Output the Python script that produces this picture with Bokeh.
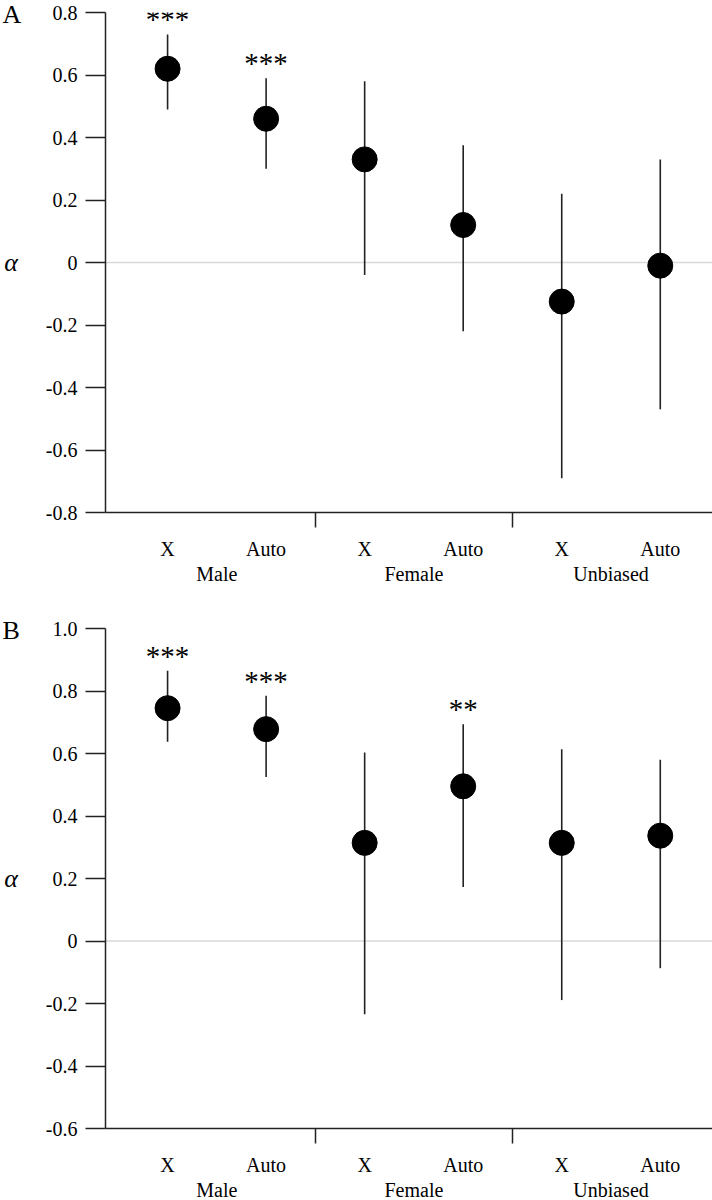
from bokeh.plotting import figure
from bokeh.models import (FixedTicker, CustomJSTickFormatter, LinearAxis, Span,
                          LabelSet, ColumnDataSource, Range1d)
from bokeh.layouts import column
from bokeh.embed import file_html
from bokeh.resources import INLINE

# ---------------- data ----------------
categories = ["X", "Auto", "X", "Auto", "X", "Auto"]
positions = [0, 1, 2, 3, 4, 5]
groups = ["Male", "Female", "Unbiased"]
group_positions = [0.5, 2.5, 4.5]
dividers = [1.5, 3.5]

alpha_a = [0.62, 0.46, 0.33, 0.12, -0.125, -0.01]
lower_a = [0.49, 0.30, -0.04, -0.22, -0.69, -0.47]
upper_a = [0.73, 0.59, 0.58, 0.375, 0.22, 0.33]
stars_a = ["***", "***", "", "", "", ""]
yticks_a = [-0.8, -0.6, -0.4, -0.2, 0, 0.2, 0.4, 0.6, 0.8]

alpha_b = [0.745, 0.678, 0.314, 0.495, 0.314, 0.337]
lower_b = [0.638, 0.525, -0.234, 0.173, -0.189, -0.087]
upper_b = [0.865, 0.785, 0.603, 0.694, 0.614, 0.58]
stars_b = ["***", "***", "", "**", "", ""]
yticks_b = [-0.6, -0.4, -0.2, 0, 0.2, 0.4, 0.6, 0.8, 1.0]

FONT = "Liberation Serif"
FW, FH = 607, 500
LEFT = 105


def make_panel(letter, alpha, lower, upper, stars, yticks, top, bottom):
    p = figure(frame_width=FW, frame_height=FH,
               min_border_left=LEFT, min_border_right=0,
               min_border_top=top, min_border_bottom=bottom,
               x_range=Range1d(-0.63, 5.53),
               y_range=Range1d(yticks[0], yticks[-1]),
               x_axis_location=None, y_axis_location=None,
               output_backend="svg", toolbar_location=None)
    p.grid.grid_line_color = None
    p.outline_line_color = None
    p.background_fill_color = "white"
    p.border_fill_color = "white"

    # panel letter as a title pulled down beside the axis
    p.title.text = letter
    p.title.align = "left"
    p.title.offset = 2 - LEFT
    p.title.standoff = -33
    p.title.text_font = FONT
    p.title.text_font_size = "26px"
    p.title.text_font_style = "normal"
    p.title.text_color = "black"

    # y axis
    yaxis = LinearAxis(ticker=FixedTicker(ticks=yticks),
                       formatter=CustomJSTickFormatter(code="""
                           if (Math.abs(tick) < 1e-9) { return "0"; }
                           return tick.toFixed(1);"""),
                       axis_label="\u03b1",
                       axis_label_orientation="horizontal",
                       axis_label_text_font=FONT,
                       axis_label_text_font_style="italic",
                       axis_label_text_font_size="26px",
                       axis_label_text_color="black",
                       axis_label_standoff=25)
    yaxis.axis_line_width = 1.5
    yaxis.axis_line_color = "#222222"
    yaxis.major_tick_line_width = 1.5
    yaxis.major_tick_line_color = "#222222"
    yaxis.major_tick_out = 20
    yaxis.major_tick_in = 0
    yaxis.minor_tick_line_color = None
    yaxis.major_label_text_font = FONT
    yaxis.major_label_text_font_size = "20px"
    yaxis.major_label_text_color = "black"
    yaxis.major_label_standoff = 8
    p.add_layout(yaxis, "left")

    # x axis: line, divider ticks, category labels
    xaxis = LinearAxis(ticker=FixedTicker(ticks=positions, minor_ticks=dividers),
                       major_label_overrides={k: v for k, v in zip(positions, categories)})
    xaxis.axis_line_width = 1.5
    xaxis.axis_line_color = "#222222"
    xaxis.major_tick_line_color = None
    xaxis.major_tick_out = 0
    xaxis.major_tick_in = 0
    xaxis.minor_tick_line_color = "#222222"
    xaxis.minor_tick_line_width = 1.5
    xaxis.minor_tick_out = 15
    xaxis.minor_tick_in = 0
    xaxis.major_label_text_font = FONT
    xaxis.major_label_text_font_size = "20px"
    xaxis.major_label_text_color = "black"
    xaxis.major_label_standoff = 10
    p.add_layout(xaxis, "below")

    # group labels axis
    gaxis = LinearAxis(ticker=FixedTicker(ticks=group_positions),
                       major_label_overrides={k: v for k, v in zip(group_positions, groups)})
    gaxis.axis_line_color = None
    gaxis.major_tick_line_color = None
    gaxis.minor_tick_line_color = None
    gaxis.major_tick_out = 0
    gaxis.major_tick_in = 0
    gaxis.major_label_text_font = FONT
    gaxis.major_label_text_font_size = "20px"
    gaxis.major_label_text_color = "black"
    gaxis.major_label_standoff = 0
    p.add_layout(gaxis, "below")

    p.add_layout(Span(location=0, dimension="width", line_color="#d9d9d9",
                      line_width=1.5, level="underlay"))

    src = ColumnDataSource(dict(x=positions, alpha=alpha, lower=lower,
                                upper=upper, stars=stars))
    p.segment(x0="x", y0="lower", x1="x", y1="upper", source=src,
              line_color="#222222", line_width=1.6)
    p.scatter(x="x", y="alpha", source=src, marker="circle", size=25,
              fill_color="black", line_color="black")
    p.add_layout(LabelSet(x="x", y="upper", text="stars", source=src,
                          y_offset=15, text_align="center",
                          text_baseline="middle", text_font=FONT,
                          text_font_size="29px", text_color="black"))
    return p


pa = make_panel("A", alpha_a, lower_a, upper_a, stars_a, yticks_a, 12, 100)
pb = make_panel("B", alpha_b, lower_b, upper_b, stars_b, yticks_b, 16, 72)

layout = column(pa, pb, spacing=0)
open("out.html", "w").write(file_html(layout, INLINE))
